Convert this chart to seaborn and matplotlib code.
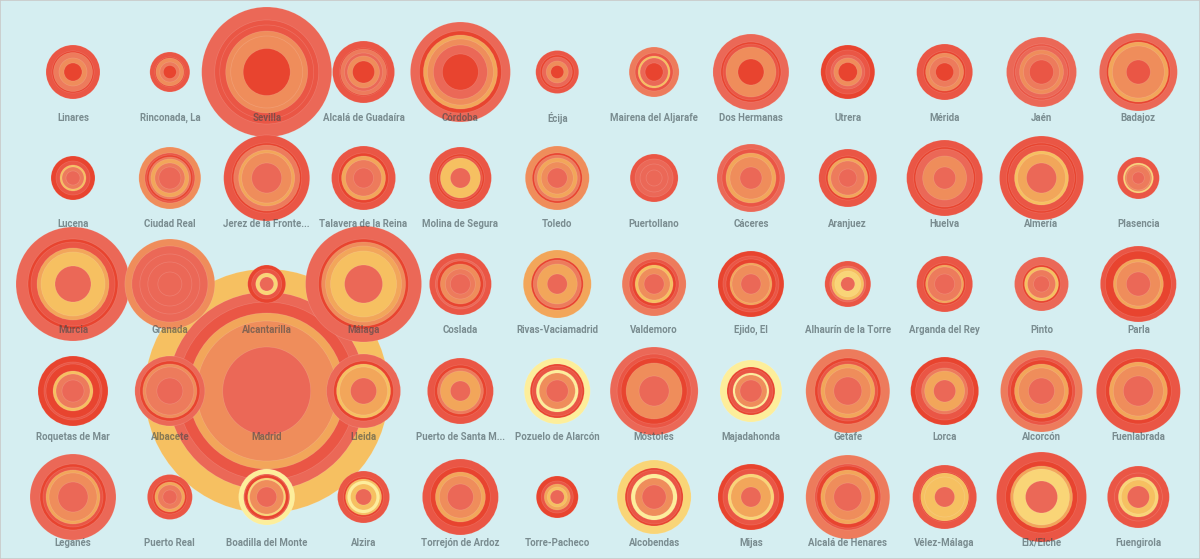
import pandas as pd
import numpy as np
import seaborn as sns
import matplotlib.pyplot as plt

sns.set_style('white')
plt.rcParams['font.family'] = ['Roboto', 'DejaVu Sans']

# colour keys used by the rings
palette = {
    'deep': '#e8442f',
    'red': '#ea5645',
    'salmon': '#eb6857',
    'coral': '#ed7b5c',
    'ocoral': '#ef8d5b',
    'orange': '#f2a65a',
    'yorange': '#f6c061',
    'yellow': '#f9d577',
    'pale': '#fdee9b',
}

cities = [
    'Linares', 'Rinconada, La', 'Sevilla', 'Alcalá de Guadaíra', 'Córdoba', 'Écija',
    'Mairena del Aljarafe', 'Dos Hermanas', 'Utrera', 'Mérida', 'Jaén', 'Badajoz',
    'Lucena', 'Ciudad Real', 'Jerez de la Fronte...', 'Talavera de la Reina', 'Molina de Segura', 'Toledo',
    'Puertollano', 'Cáceres', 'Aranjuez', 'Huelva', 'Almería', 'Plasencia',
    'Murcia', 'Granada', 'Alcantarilla', 'Málaga', 'Coslada', 'Rivas-Vaciamadrid',
    'Valdemoro', 'Ejido, El', 'Alhaurín de la Torre', 'Arganda del Rey', 'Pinto', 'Parla',
    'Roquetas de Mar', 'Albacete', 'Madrid', 'Lleida', 'Puerto de Santa M...', 'Pozuelo de Alarcón',
    'Móstoles', 'Majadahonda', 'Getafe', 'Lorca', 'Alcorcón', 'Fuenlabrada',
    'Leganés', 'Puerto Real', 'Boadilla del Monte', 'Alzira', 'Torrejón de Ardoz', 'Torre-Pacheco',
    'Alcobendas', 'Mijas', 'Alcalá de Henares', 'Vélez-Málaga', 'Elx/Elche', 'Fuengirola',
]

# ring radii (px), outer to inner
radii = [
    [27, 21, 19.5, 14, 9], [20, 15, 14, 10, 6.5], [65, 52, 47, 41, 36, 23.5],
    [31, 24, 23, 19, 16, 11], [50, 41, 37, 33, 27, 18], [21.5, 17, 15, 11, 6.5],
    [25, 19, 16, 14, 9], [38, 30, 28, 25, 13], [27, 22, 17, 14, 9.5],
    [28, 21, 19, 15, 9], [35, 28, 26, 22, 18, 12], [39, 32, 30, 26, 12],
    [22, 17, 13, 11, 7], [31, 25, 23, 21, 19, 15, 11], [43, 35, 33, 28, 25, 15],
    [32, 25, 22, 18, 10], [31, 24, 22, 20, 10], [32, 25, 23, 20, 16, 10],
    [24, 19, 14, 8], [34, 29, 25, 21, 11], [29, 22, 20, 17, 9],
    [38, 31, 29, 22, 11], [42, 35, 33, 27, 24, 15], [21, 15, 13.5, 12, 6],
    [57, 45, 42, 36, 32, 18], [45, 38, 30, 22, 12], [19, 15, 11, 7],
    [58, 45, 42, 38, 33, 19], [31, 25, 23, 20, 15, 10], [34, 26, 24, 20, 10],
    [32, 25, 22, 19, 16, 10], [33, 28, 25, 21, 19, 10], [23, 18, 16, 13, 7],
    [28, 21, 19, 17, 10], [27, 19, 17, 14, 8], [38, 33, 25, 22, 12],
    [35, 29, 27, 20, 17, 11], [35, 30, 27, 24, 13], [122, 99, 89, 78, 70, 44],
    [37, 30, 27, 24, 13], [33, 26, 23, 20, 10], [33, 27, 25, 21, 18, 11],
    [44, 37, 33, 28, 15], [31, 24, 22, 18, 16, 11], [42, 33, 30, 27, 23, 14],
    [34, 29, 23, 20, 11], [41, 34, 31, 27, 23, 13], [42, 33, 29, 25, 15],
    [43, 33, 30, 27, 24, 15], [22.5, 17, 15, 12, 7], [28, 23, 22, 19, 17, 10],
    [26, 20, 18, 16, 13, 8], [38, 30, 25, 21, 13], [21, 16, 13, 10, 7],
    [37, 29, 27, 23, 19, 12], [33, 28, 23, 20, 10], [42, 33, 31, 27, 23, 14],
    [32, 25, 24, 20, 10], [45, 36, 31, 28, 16], [31, 24, 20, 17, 11],
]

colors = [
    ['red', 'deep', 'coral', 'ocoral', 'deep'], ['red', 'deep', 'ocoral', 'coral', 'deep'],
    ['salmon', 'red', 'red', 'ocoral', 'ocoral', 'deep'],
    ['red', 'deep', 'coral', 'salmon', 'ocoral', 'deep'], ['salmon', 'deep', 'orange', 'ocoral', 'salmon', 'deep'],
    ['red', 'deep', 'salmon', 'ocoral', 'deep'],
    ['coral', 'red', 'yorange', 'salmon', 'deep'], ['salmon', 'deep', 'red', 'ocoral', 'deep'],
    ['deep', 'red', 'salmon', 'ocoral', 'deep'],
    ['red', 'deep', 'ocoral', 'coral', 'deep'], ['salmon', 'red', 'salmon', 'ocoral', 'coral', 'red'],
    ['salmon', 'deep', 'orange', 'ocoral', 'red'],
    ['deep', 'red', 'yorange', 'coral', 'salmon'], ['ocoral', 'red', 'deep', 'coral', 'orange', 'coral', 'salmon'],
    ['red', 'deep', 'coral', 'orange', 'ocoral', 'salmon'],
    ['red', 'deep', 'orange', 'coral', 'salmon'], ['red', 'deep', 'red', 'yorange', 'salmon'],
    ['ocoral', 'deep', 'coral', 'orange', 'ocoral', 'salmon'],
    ['red', 'salmon', 'salmon', 'salmon'], ['salmon', 'red', 'orange', 'ocoral', 'salmon'],
    ['red', 'deep', 'orange', 'coral', 'salmon'],
    ['red', 'deep', 'salmon', 'ocoral', 'salmon'], ['red', 'deep', 'red', 'yorange', 'orange', 'salmon'],
    ['red', 'yellow', 'ocoral', 'coral', 'salmon'],
    ['salmon', 'deep', 'red', 'orange', 'yorange', 'salmon'], ['ocoral', 'salmon', 'salmon', 'salmon', 'salmon'],
    ['deep', 'red', 'yellow', 'salmon'],
    ['salmon', 'deep', 'ocoral', 'orange', 'yorange', 'salmon'], ['red', 'salmon', 'deep', 'ocoral', 'coral', 'salmon'],
    ['orange', 'deep', 'coral', 'orange', 'salmon'],
    ['coral', 'red', 'deep', 'yorange', 'ocoral', 'salmon'], ['deep', 'red', 'deep', 'orange', 'ocoral', 'salmon'],
    ['red', 'salmon', 'yorange', 'yellow', 'salmon'],
    ['red', 'deep', 'orange', 'coral', 'salmon'], ['salmon', 'deep', 'yorange', 'coral', 'salmon'],
    ['red', 'deep', 'orange', 'ocoral', 'salmon'],
    ['deep', 'red', 'deep', 'yorange', 'coral', 'salmon'], ['salmon', 'deep', 'ocoral', 'coral', 'salmon'],
    ['yorange', 'salmon', 'red', 'orange', 'ocoral', 'salmon'],
    ['salmon', 'deep', 'yorange', 'orange', 'salmon'], ['red', 'deep', 'coral', 'orange', 'salmon'],
    ['pale', 'deep', 'red', 'pale', 'ocoral', 'salmon'],
    ['salmon', 'red', 'deep', 'ocoral', 'salmon'], ['pale', 'deep', 'red', 'pale', 'ocoral', 'salmon'],
    ['coral', 'deep', 'red', 'orange', 'ocoral', 'salmon'],
    ['deep', 'red', 'coral', 'orange', 'salmon'], ['coral', 'red', 'deep', 'orange', 'ocoral', 'salmon'],
    ['red', 'deep', 'orange', 'ocoral', 'salmon'],
    ['salmon', 'deep', 'red', 'orange', 'ocoral', 'salmon'], ['red', 'deep', 'orange', 'coral', 'salmon'],
    ['pale', 'red', 'deep', 'yellow', 'ocoral', 'salmon'],
    ['red', 'deep', 'yorange', 'pale', 'yorange', 'salmon'], ['red', 'deep', 'orange', 'ocoral', 'salmon'],
    ['deep', 'red', 'orange', 'yorange', 'salmon'],
    ['yellow', 'deep', 'red', 'pale', 'ocoral', 'salmon'], ['deep', 'red', 'yellow', 'orange', 'salmon'],
    ['coral', 'red', 'deep', 'orange', 'ocoral', 'salmon'],
    ['red', 'deep', 'yorange', 'yorange', 'salmon'], ['red', 'deep', 'orange', 'yellow', 'salmon'],
    ['red', 'red', 'yellow', 'yorange', 'salmon'],
]

# grid layout (pixels)
col_x = 73 + 96.85 * np.arange(12)
row_y = [72, 178, 284, 391, 497]
label_dy = 46
dpi = 100

# Madrid is drawn first so its neighbours sit on top of it
order = [cities.index('Madrid')] + [i for i in range(len(cities)) if cities[i] != 'Madrid']

rows = []
for i in order:
    cx, cy = col_x[i % 12], row_y[i // 12]
    for r, c in zip(radii[i], colors[i]):
        rows.append({'x': cx, 'y': cy, 's': (2 * r * 72 / dpi) ** 2, 'color': c})
df = pd.DataFrame(rows)

fig = plt.figure(figsize=(12, 5.59), dpi=dpi)
ax = fig.add_axes([0, 0, 1, 1])
ax.set_facecolor('#d5eef1')

size_map = {v: v for v in df['s'].unique()}
sns.scatterplot(data=df, x='x', y='y', hue='color', palette=palette,
                size='s', sizes=size_map, legend=False, ax=ax,
                edgecolor=(1, 1, 1, 0.15), linewidth=0.5)

# dark text with partial opacity: grey on the background, darker over the circles
for i, name in enumerate(cities):
    ax.text(col_x[i % 12], row_y[i // 12] + label_dy, name, ha='center', va='center',
            fontsize=6.9, fontweight='bold', color='#38464a', alpha=0.58, zorder=5)

ax.set_xlim(0, 1200)
ax.set_ylim(559, 0)
ax.set_xticks([])
ax.set_yticks([])
ax.set_xlabel('')
ax.set_ylabel('')
for sp in ax.spines.values():
    sp.set_color('#c9c9c9')
    sp.set_linewidth(1.2)

fig.savefig('out.png', dpi=dpi)
